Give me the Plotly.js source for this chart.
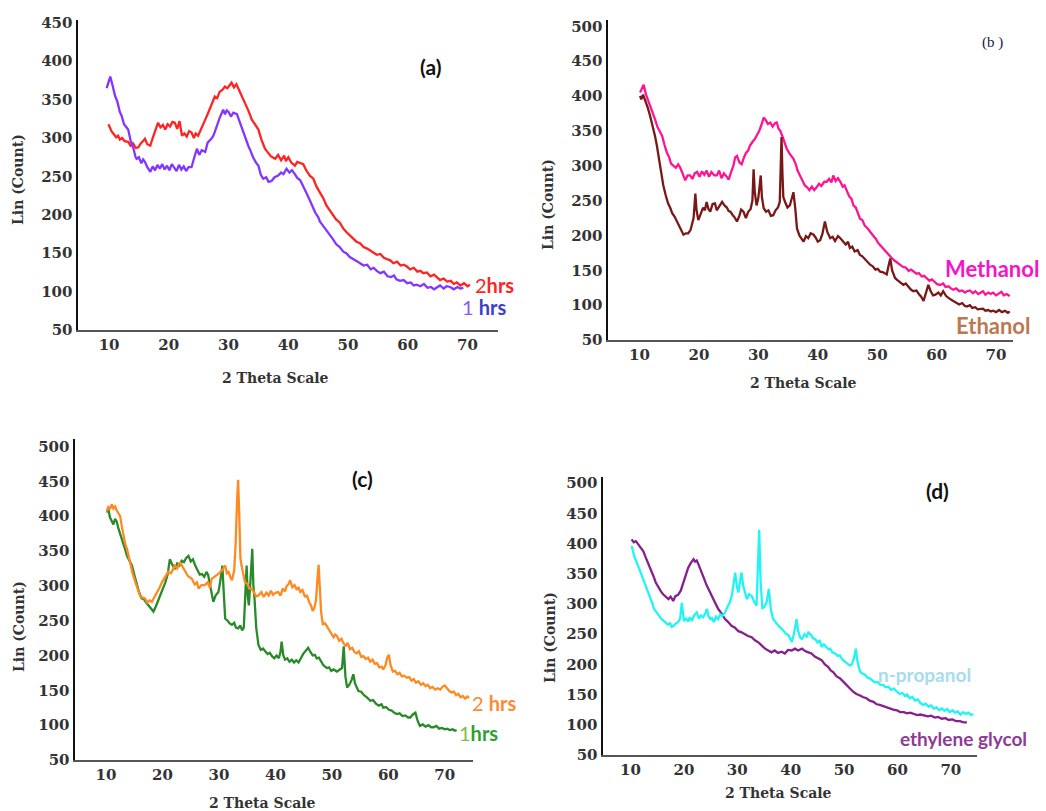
<!DOCTYPE html>
<html>
<head>
<meta charset="utf-8">
<script src="https://cdn.plot.ly/plotly-3.0.1.min.js"></script>
<style>html,body{margin:0;padding:0;background:#fff;}#chart{width:1046px;height:811px;}</style>
</head>
<body>
<div id="chart"></div>
<script>
// ---------- tick labels ----------
const THETA_TICKS = [10, 20, 30, 40, 50, 60, 70];
const COUNT_TICKS_A = [50, 100, 150, 200, 250, 300, 350, 400, 450];
const COUNT_TICKS_BCD = [50, 100, 150, 200, 250, 300, 350, 400, 450, 500];

// ---------- panel (a): [2theta, count] ----------
const A_2HRS = [[9.9,318],[10.2,312],[10.4,309],[10.8,305],[11.2,301],[11.5,303],[11.8,298],[12.2,300],[12.6,296],[13.2,295],[13.6,290],[14.0,293],[14.5,287],[14.9,288],[15.3,293],[15.7,296],[16.0,299],[16.4,292],[16.9,290],[17.3,300],[17.7,310],[18.2,320],[18.6,314],[19.0,317],[19.4,311],[19.8,318],[20.2,315],[20.6,321],[21.0,320],[21.4,312],[21.8,322],[22.2,303],[22.6,306],[23.0,302],[23.4,309],[23.8,307],[24.2,300],[24.5,306],[24.9,303],[25.4,311],[25.8,317],[26.1,324],[26.6,333],[27.0,340],[27.4,348],[27.7,354],[28.1,352],[28.5,360],[29.0,363],[29.4,367],[29.8,365],[30.2,370],[30.5,372],[30.9,366],[31.3,370],[31.6,365],[32.0,358],[32.4,352],[32.8,346],[33.3,336],[33.9,324],[34.4,318],[35.0,311],[35.5,298],[36.1,286],[36.6,281],[37.1,276],[37.8,273],[38.3,278],[38.8,271],[39.3,277],[39.6,270],[40.0,275],[40.5,268],[41.1,264],[41.5,269],[42.0,267],[42.5,266],[43.0,258],[43.6,251],[44.2,247],[44.7,237],[45.3,229],[45.9,221],[46.4,212],[47.0,205],[47.5,200],[48.0,194],[48.6,190],[49.2,182],[49.8,177],[50.4,172],[51.0,168],[51.4,165],[52.0,163],[52.6,158],[53.2,156],[53.8,153],[54.2,152],[54.8,148],[55.4,149],[56.0,144],[56.6,142],[57.0,141],[57.6,137],[58.2,139],[58.8,134],[59.3,135],[59.8,133],[60.4,129],[61.0,131],[61.6,126],[62.1,127],[62.6,124],[63.2,125],[63.8,120],[64.4,122],[65.0,117],[65.4,115],[66.0,117],[66.6,113],[67.2,114],[67.7,110],[68.2,112],[68.8,108],[69.4,111],[70.0,107],[70.4,109]];
const A_1HRS = [[9.6,365],[10.0,376],[10.2,380],[10.6,368],[11.0,355],[11.4,347],[11.8,334],[12.1,329],[12.5,318],[12.9,314],[13.2,311],[13.6,297],[14.1,286],[14.4,276],[14.6,273],[15.0,275],[15.4,267],[15.7,272],[16.0,269],[16.4,262],[16.9,256],[17.3,263],[17.7,258],[18.1,265],[18.5,260],[18.9,266],[19.3,259],[19.7,264],[20.1,258],[20.5,266],[20.9,261],[21.3,257],[21.7,265],[22.1,259],[22.5,263],[22.9,257],[23.3,262],[23.8,262],[24.2,273],[24.7,286],[25.1,278],[25.5,284],[26.1,282],[26.5,294],[27.0,298],[27.4,302],[27.7,308],[28.1,318],[28.5,326],[29.1,337],[29.4,331],[29.7,336],[30.0,334],[30.4,328],[30.8,333],[31.4,331],[31.8,322],[32.2,315],[32.7,303],[33.3,290],[33.7,283],[34.1,275],[34.6,268],[35.0,264],[35.4,252],[35.8,247],[36.3,249],[36.7,243],[37.2,244],[37.7,249],[38.3,251],[38.8,255],[39.2,253],[39.7,260],[40.2,255],[40.6,258],[41.1,253],[41.5,248],[42.0,245],[42.5,236],[43.0,229],[43.6,219],[44.0,212],[44.5,203],[45.0,197],[45.3,191],[45.8,186],[46.3,181],[47.0,174],[47.5,168],[48.0,162],[48.6,158],[49.2,152],[49.7,150],[50.3,145],[50.8,143],[51.4,140],[52.0,137],[52.6,134],[53.2,135],[53.8,129],[54.3,131],[54.8,127],[55.4,124],[56.0,126],[56.6,120],[57.2,119],[57.7,121],[58.1,116],[58.7,114],[59.3,115],[59.9,111],[60.5,112],[61.0,108],[61.5,109],[62.1,107],[62.7,110],[63.3,105],[63.9,106],[64.4,103],[64.8,105],[65.4,108],[66.0,104],[66.5,107],[67.1,106],[67.7,103],[68.3,106],[68.8,104],[69.3,105]];

// ---------- panel (b) ----------
const B_METHANOL = [[10.1,405],[10.4,410],[10.7,416],[11.1,402],[11.5,393],[11.9,383],[12.3,372],[12.6,367],[13.0,356],[13.4,349],[13.8,343],[14.2,330],[14.6,319],[15.0,312],[15.3,303],[15.7,300],[16.1,297],[16.5,302],[16.8,298],[17.2,290],[17.7,279],[18.1,286],[18.5,286],[18.9,281],[19.3,289],[19.7,291],[20.1,284],[20.5,292],[20.9,287],[21.3,293],[21.7,284],[22.1,291],[22.6,286],[23.0,286],[23.4,293],[23.8,282],[24.2,289],[24.7,284],[25.0,280],[25.3,288],[25.8,300],[26.1,312],[26.4,314],[26.8,305],[27.2,302],[27.5,310],[27.9,318],[28.3,322],[28.6,329],[29.0,334],[29.4,338],[29.7,343],[30.1,349],[30.5,358],[30.9,369],[31.2,366],[31.6,360],[32.0,362],[32.4,356],[32.8,361],[33.1,362],[33.4,353],[33.7,350],[34.1,341],[34.5,330],[34.8,324],[35.2,318],[35.5,314],[35.9,310],[36.3,302],[36.6,293],[37.0,286],[37.4,280],[37.8,272],[38.2,269],[38.6,265],[39.0,270],[39.4,265],[39.8,269],[40.2,274],[40.6,271],[41.1,277],[41.5,277],[41.9,281],[42.3,276],[42.6,286],[43.0,278],[43.4,282],[43.8,277],[44.2,270],[44.5,272],[44.9,265],[45.3,256],[45.7,252],[46.0,243],[46.4,240],[46.8,231],[47.1,224],[47.5,222],[47.9,214],[48.4,210],[48.8,205],[49.3,200],[49.8,195],[50.1,190],[50.5,186],[51.0,181],[51.5,176],[52.0,172],[52.4,168],[52.9,164],[53.4,161],[53.8,158],[54.3,155],[54.8,154],[55.3,149],[55.7,151],[56.1,148],[56.6,145],[57.0,146],[57.5,141],[57.9,142],[58.3,139],[58.8,135],[59.2,137],[59.7,133],[60.1,130],[60.6,129],[61.1,131],[61.5,126],[62.0,127],[62.4,124],[62.8,122],[63.3,124],[63.8,120],[64.3,121],[64.8,118],[65.1,120],[65.6,121],[66.1,117],[66.5,120],[67.0,116],[67.3,118],[67.8,120],[68.2,115],[68.7,118],[69.1,116],[69.5,118],[70.0,114],[70.5,117],[70.9,119],[71.3,114],[71.8,116],[72.3,113]];
const B_ETHANOL = [[10.1,400],[10.3,395],[10.6,402],[11.0,393],[11.4,383],[11.8,371],[12.2,358],[12.6,343],[12.9,330],[13.2,314],[13.6,293],[14.0,272],[14.4,258],[14.8,246],[15.2,239],[15.5,232],[15.9,227],[16.3,220],[16.7,214],[17.1,206],[17.4,201],[17.8,203],[18.2,203],[18.6,208],[18.8,215],[19.1,225],[19.4,260],[19.6,236],[19.9,222],[20.3,231],[20.7,240],[21.0,236],[21.3,248],[21.6,238],[21.9,234],[22.3,245],[22.7,246],[23.0,236],[23.4,242],[23.9,248],[24.3,243],[24.7,240],[25.0,235],[25.3,234],[25.7,229],[26.0,226],[26.4,220],[26.8,228],[27.1,237],[27.5,234],[27.9,225],[28.3,234],[28.7,238],[29.0,250],[29.2,295],[29.4,262],[29.7,243],[30.0,254],[30.2,270],[30.4,286],[30.6,255],[30.9,239],[31.3,234],[31.7,236],[32.1,228],[32.5,229],[32.9,236],[33.3,240],[33.6,248],[33.75,300],[33.9,341],[34.05,290],[34.2,255],[34.5,248],[34.9,240],[35.3,243],[35.6,252],[35.9,262],[36.2,240],[36.5,210],[36.9,200],[37.3,194],[37.6,191],[38.0,199],[38.4,196],[38.8,203],[39.3,201],[39.7,196],[40.0,191],[40.4,193],[40.8,203],[41.2,220],[41.6,205],[42.1,196],[42.5,198],[42.9,192],[43.4,199],[43.8,196],[44.3,190],[44.7,187],[45.1,191],[45.4,182],[45.8,184],[46.2,177],[46.7,179],[47.1,172],[47.5,170],[47.9,166],[48.4,162],[48.8,158],[49.2,156],[49.7,151],[50.1,152],[50.5,148],[51.0,147],[51.3,145],[51.6,144],[51.9,156],[52.2,167],[52.5,150],[53.0,139],[53.4,136],[53.9,132],[54.4,129],[54.8,131],[55.3,125],[55.7,122],[56.1,120],[56.6,121],[57.0,116],[57.4,112],[57.8,106],[58.2,118],[58.6,129],[59.0,120],[59.4,114],[59.8,115],[60.3,118],[60.7,114],[61.1,120],[61.6,113],[62.0,110],[62.4,108],[62.8,106],[63.3,104],[63.8,101],[64.3,103],[64.7,99],[65.1,98],[65.6,100],[66.0,96],[66.5,97],[66.9,94],[67.3,94],[67.8,95],[68.2,92],[68.7,93],[69.1,91],[69.5,92],[70.0,90],[70.5,93],[71.0,90],[71.5,92],[72.0,89],[72.3,91]];

// ---------- panel (c) ----------
const C_2HRS = [[10.1,407],[10.4,413],[10.7,410],[11.0,417],[11.3,411],[11.6,414],[11.9,408],[12.2,404],[12.5,400],[12.8,385],[13.1,372],[13.4,360],[13.7,353],[14.0,342],[14.3,329],[14.7,318],[15.2,305],[15.6,295],[16.0,286],[16.5,283],[16.9,282],[17.3,276],[17.7,279],[18.1,277],[18.6,284],[19.0,291],[19.4,296],[19.9,305],[20.4,312],[21.0,320],[21.5,318],[22.2,329],[22.6,325],[23.1,334],[23.5,328],[24.0,320],[24.5,314],[25.2,310],[25.7,302],[26.1,305],[26.4,296],[26.9,301],[27.5,301],[28.0,305],[28.4,297],[28.7,310],[29.3,313],[29.9,317],[30.5,322],[31.1,329],[31.4,318],[31.7,320],[32.0,313],[32.3,308],[32.7,322],[32.95,360],[33.2,420],[33.4,452],[33.6,400],[33.8,340],[34.0,329],[34.3,315],[34.6,305],[35.0,303],[35.4,296],[35.8,296],[36.3,289],[36.6,285],[37.0,286],[37.5,291],[37.9,284],[38.4,290],[38.8,286],[39.2,293],[39.6,287],[40.0,290],[40.5,291],[40.9,286],[41.3,296],[41.7,292],[42.0,300],[42.3,302],[42.6,308],[43.0,298],[43.4,301],[43.8,294],[44.1,298],[44.4,291],[44.8,294],[45.2,285],[45.6,286],[46.0,276],[46.3,272],[46.6,264],[46.9,268],[47.2,280],[47.45,310],[47.65,330],[47.85,300],[48.1,262],[48.4,245],[48.8,246],[49.1,242],[49.5,236],[49.9,231],[50.3,226],[50.6,230],[50.9,228],[51.3,221],[51.7,224],[52.1,217],[52.5,214],[52.8,218],[53.2,209],[53.6,211],[54.0,205],[54.4,203],[54.8,206],[55.2,198],[55.6,199],[56.0,195],[56.4,197],[56.8,191],[57.2,194],[57.6,188],[58.0,189],[58.4,183],[58.8,184],[59.1,180],[59.5,186],[59.8,197],[60.1,201],[60.4,186],[60.8,177],[61.2,178],[61.6,173],[62.0,175],[62.4,170],[62.8,171],[63.3,168],[63.7,169],[64.1,164],[64.5,166],[64.9,161],[65.3,163],[65.8,158],[66.2,160],[66.6,156],[67.0,158],[67.4,153],[67.8,155],[68.3,151],[68.7,153],[69.2,151],[69.6,155],[70.0,157],[70.4,153],[70.8,149],[71.2,147],[71.6,148],[72.0,143],[72.4,145],[72.8,140],[73.2,142],[73.6,138],[74.0,141],[74.3,139]];
const C_1HRS = [[10.2,405],[10.4,410],[10.7,398],[11.0,393],[11.3,388],[11.6,396],[11.9,392],[12.2,382],[12.5,375],[12.8,367],[13.1,358],[13.4,352],[13.7,343],[14.0,338],[14.3,333],[14.6,329],[15.0,316],[15.4,303],[15.8,292],[16.3,282],[16.7,281],[17.1,276],[17.5,272],[17.9,268],[18.4,263],[18.8,270],[19.2,278],[19.6,286],[20.0,296],[20.5,305],[20.9,316],[21.3,338],[21.7,331],[22.2,324],[22.6,332],[23.0,329],[23.4,336],[23.8,334],[24.2,340],[24.6,343],[25.0,335],[25.4,338],[25.8,329],[26.2,323],[26.6,316],[27.0,317],[27.4,313],[27.8,320],[28.1,315],[28.5,298],[28.8,285],[29.0,277],[29.4,286],[29.9,291],[30.2,305],[30.6,329],[30.85,290],[31.1,253],[31.5,250],[31.9,246],[32.3,244],[32.7,247],[33.0,240],[33.4,239],[33.8,243],[34.1,236],[34.4,240],[34.7,290],[34.9,329],[35.1,285],[35.3,272],[35.6,310],[35.9,353],[36.1,300],[36.3,282],[36.6,240],[37.0,215],[37.4,208],[37.8,210],[38.2,206],[38.6,202],[39.0,204],[39.4,199],[39.8,196],[40.2,200],[40.6,196],[40.9,205],[41.1,220],[41.4,200],[41.7,194],[42.1,196],[42.5,191],[42.9,194],[43.3,190],[43.7,193],[44.1,190],[44.5,197],[44.9,202],[45.3,206],[45.8,211],[46.2,205],[46.6,200],[47.0,201],[47.3,196],[47.7,197],[48.1,191],[48.5,186],[49.1,182],[49.5,183],[49.9,178],[50.3,180],[50.9,177],[51.4,180],[51.8,182],[52.1,213],[52.4,170],[52.7,154],[53.1,158],[53.5,165],[53.8,173],[54.1,160],[54.7,149],[55.2,148],[55.7,143],[56.2,140],[56.8,135],[57.3,136],[57.8,131],[58.3,128],[58.8,130],[59.1,125],[59.6,126],[60.1,122],[60.6,121],[61.0,118],[61.5,116],[62.0,117],[62.5,113],[63.0,114],[63.5,111],[63.9,111],[64.3,115],[64.8,118],[65.2,106],[65.6,99],[66.1,101],[66.6,98],[67.1,100],[67.6,97],[68.0,97],[68.5,99],[69.0,95],[69.5,96],[70.0,94],[70.4,95],[70.9,93],[71.4,94],[71.8,92],[72.1,93]];

// ---------- panel (d) ----------
const D_NPROPANOL = [[10.2,396],[10.5,385],[10.8,376],[11.2,368],[11.6,359],[12.1,346],[12.5,338],[13.0,325],[13.5,313],[14.0,303],[14.4,292],[14.8,287],[15.2,281],[15.7,276],[16.1,273],[16.5,270],[17.0,266],[17.4,268],[17.7,262],[18.1,264],[18.5,268],[18.9,270],[19.3,276],[19.6,302],[19.8,285],[20.0,272],[20.4,276],[20.8,271],[21.1,278],[21.5,272],[21.9,281],[22.4,286],[22.8,276],[23.2,281],[23.6,278],[24.0,284],[24.3,292],[24.6,280],[25.0,274],[25.2,278],[25.6,270],[26.0,279],[26.4,275],[26.8,283],[27.2,280],[27.7,286],[28.2,296],[28.6,303],[29.0,315],[29.3,330],[29.6,352],[29.9,330],[30.2,319],[30.5,338],[30.8,352],[31.1,330],[31.5,315],[31.8,308],[32.2,316],[32.7,313],[33.1,305],[33.6,297],[33.85,360],[34.1,423],[34.35,340],[34.7,292],[35.1,296],[35.5,303],[35.9,325],[36.3,290],[36.7,275],[37.1,270],[37.5,265],[37.9,262],[38.3,259],[38.7,255],[39.1,251],[39.6,248],[40.0,240],[40.2,237],[40.6,250],[41.1,275],[41.4,255],[41.8,244],[42.1,242],[42.6,250],[43.0,246],[43.3,253],[43.8,249],[44.2,243],[44.6,242],[45.0,236],[45.4,240],[45.8,229],[46.2,233],[46.7,228],[47.1,225],[47.4,226],[47.8,220],[48.3,218],[48.8,214],[49.2,215],[49.7,208],[50.2,204],[50.7,200],[51.1,198],[51.5,201],[51.9,212],[52.2,226],[52.5,205],[53.0,188],[53.4,185],[53.9,183],[54.4,178],[54.8,177],[55.3,174],[55.8,170],[56.3,171],[56.8,166],[57.3,166],[57.8,162],[58.3,163],[58.8,158],[59.3,160],[59.9,155],[60.4,151],[60.9,153],[61.4,148],[61.8,150],[62.3,144],[62.8,146],[63.3,140],[63.8,142],[64.3,136],[64.8,133],[65.3,135],[65.8,130],[66.3,132],[66.8,127],[67.3,129],[67.8,124],[68.3,127],[68.8,123],[69.3,126],[69.8,121],[70.3,124],[70.8,120],[71.3,122],[71.8,117],[72.3,121],[72.8,118],[73.3,120],[73.8,116],[74.2,118]];
const D_ETHYLENE_GLYCOL = [[10.2,407],[10.6,402],[11.0,404],[11.5,398],[11.9,395],[12.4,387],[12.8,378],[13.3,368],[13.8,357],[14.3,346],[14.7,336],[15.2,327],[15.6,322],[16.1,316],[16.6,312],[17.1,308],[17.5,312],[18.0,305],[18.4,313],[18.9,315],[19.4,322],[19.9,335],[20.3,348],[20.8,360],[21.3,368],[21.8,374],[22.1,370],[22.4,372],[22.8,364],[23.3,352],[23.8,341],[24.3,330],[24.8,321],[25.2,313],[25.8,302],[26.4,292],[27.0,285],[27.7,275],[28.3,270],[28.9,264],[29.5,261],[30.2,255],[30.8,253],[31.4,250],[32.0,247],[32.7,245],[33.3,240],[34.0,236],[34.6,231],[35.2,226],[35.8,223],[36.4,220],[37.0,223],[37.6,219],[38.3,221],[38.9,218],[39.5,224],[40.2,223],[40.8,226],[41.4,223],[42.1,226],[42.7,222],[43.3,220],[43.9,218],[44.5,213],[45.2,210],[45.8,207],[46.4,200],[47.0,196],[47.5,190],[48.0,187],[48.6,180],[49.2,177],[49.9,171],[50.5,165],[51.1,160],[51.7,155],[52.3,151],[52.9,149],[53.5,146],[54.2,144],[54.8,140],[55.5,138],[56.1,134],[56.7,133],[57.3,131],[58.0,128],[58.6,127],[59.2,125],[59.9,124],[60.5,121],[61.2,121],[61.8,119],[62.4,120],[63.0,118],[63.7,116],[64.3,117],[65.0,115],[65.7,114],[66.3,115],[67.0,112],[67.6,113],[68.3,110],[69.0,111],[69.6,108],[70.3,109],[71.0,106],[71.7,106],[72.4,104],[73.0,104]];

// ---------- texts ----------
const Y_TITLE = 'Lin (Count)';
const X_TITLE = '2 Theta Scale';

// ---------- build ----------
const col = (arr, i) => arr.map(p => p[i]);
function line(data, color, xa, ya) {
  return {type: 'scatter', mode: 'lines', x: col(data, 0), y: col(data, 1),
          xaxis: xa, yaxis: ya, line: {color: color, width: 2.3}, hoverinfo: 'skip'};
}
const traces = [
  line(A_2HRS, '#ff2424', 'x', 'y'),
  line(A_1HRS, '#8236ff', 'x', 'y'),
  line(B_METHANOL, '#ff1493', 'x2', 'y2'),
  line(B_ETHANOL, '#7a1818', 'x2', 'y2'),
  line(C_1HRS, '#2a8a2a', 'x3', 'y3'),
  line(C_2HRS, '#ff8a22', 'x3', 'y3'),
  line(D_ETHYLENE_GLYCOL, '#86208a', 'x4', 'y4'),
  line(D_NPROPANOL, '#22f4f4', 'x4', 'y4')
];

const TICKFONT = {family: 'DejaVu Serif', size: 15, color: '#333', weight: 'bold'};
function axX(domain, range, anchor) {
  return {domain: domain, range: range, anchor: anchor, showline: true, linecolor: '#555', linewidth: 2,
          showgrid: false, zeroline: false, ticks: '', tickvals: THETA_TICKS, tickfont: TICKFONT, fixedrange: true};
}
function axY(domain, range, anchor, tv) {
  return {domain: domain, range: range, anchor: anchor, showline: true, linecolor: '#111', linewidth: 2.5,
          showgrid: false, zeroline: false, ticks: '', tickvals: tv, tickfont: TICKFONT, fixedrange: true};
}

const W = 1046, H = 811;
const px = v => v / W, py = v => 1 - v / H;
function ann(text, x, y, font, extra) {
  return Object.assign({text: text, x: px(x), y: py(y), xref: 'paper', yref: 'paper',
    xanchor: 'center', yanchor: 'middle', showarrow: false, font: font}, extra || {});
}
const serifTitle = {family: 'DejaVu Serif', size: 14, color: '#333', weight: 'bold'};
const panelFont = {family: 'Lato', size: 21, color: '#111', weight: 'bold'};
const lab = (c, s) => ({family: 'Lato', size: s || 20, color: c});

const annotations = [
  ann(Y_TITLE, 18, 180, serifTitle, {textangle: -90}),
  ann(Y_TITLE, 548, 205, serifTitle, {textangle: -90}),
  ann(Y_TITLE, 19, 627, serifTitle, {textangle: -90}),
  ann(Y_TITLE, 550, 638, serifTitle, {textangle: -90}),
  ann(X_TITLE, 275, 378, serifTitle),
  ann(X_TITLE, 803, 383, serifTitle),
  ann(X_TITLE, 262, 803, serifTitle),
  ann(X_TITLE, 778, 793, serifTitle),
  ann('(a)', 430, 67, panelFont),
  ann('(b )', 992, 42, {family: 'Liberation Serif', size: 15, color: '#1a2040'}),
  ann('(c)', 362, 478, panelFont),
  ann('(d)', 937, 490, panelFont),
  ann('2<b>hrs</b>', 494, 285, lab('#ff2424')),
  ann('<span style="color:#8a5cf6">1</span> <b>hrs</b>', 484, 307, lab('#3c3ccf')),
  ann('<b>Methanol</b>', 992, 268, lab('#f514c8', 22)),
  ann('<b>Ethanol</b>', 993, 325, lab('#b97a52', 22)),
  ann('2 <b>hrs</b>', 494, 703, lab('#ff8a33')),
  ann('<span style="color:#7cc04a">1</span><b>hrs</b>', 478, 733, lab('#2ea02e')),
  ann('<b>n-propanol</b>', 924, 674, lab('#a6dcee', 19)),
  ann('<b>ethylene glycol</b>', 963, 738, lab('#8e3a96', 19))
];

const layout = {
  width: W, height: H, margin: {l: 0, r: 0, t: 0, b: 0},
  paper_bgcolor: '#ffffff', plot_bgcolor: '#ffffff', showlegend: false,
  xaxis:  axX([px(78), px(498)], [4.8, 75.1], 'y'),
  yaxis:  axY([py(330), py(20)], [50, 453.7], 'x', COUNT_TICKS_A),
  xaxis2: axX([px(608), px(1013)], [4.7, 72.85], 'y2'),
  yaxis2: axY([py(340), py(20)], [50, 509], 'x2', COUNT_TICKS_BCD),
  xaxis3: axX([px(75), px(473)], [4.5, 75.0], 'y3'),
  yaxis3: axY([py(760), py(439)], [50, 510.7], 'x3', COUNT_TICKS_BCD),
  xaxis4: axX([px(603), px(977)], [4.84, 74.9], 'y4'),
  yaxis4: axY([py(755), py(477)], [50, 510.2], 'x4', COUNT_TICKS_BCD),
  annotations: annotations
};

Plotly.newPlot('chart', traces, layout, {staticPlot: true, displayModeBar: false});
</script>
</body>
</html>
